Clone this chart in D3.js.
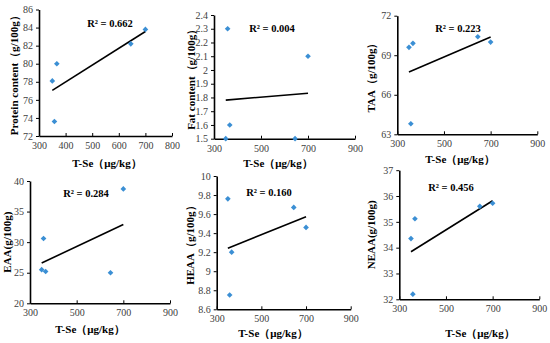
<!DOCTYPE html>
<html><head><meta charset="utf-8">
<script src="https://cdn.jsdelivr.net/npm/d3@7"></script>
<style>
body{margin:0;background:#fff;}
svg{display:block;}
text{font-family:"Liberation Serif","Times New Roman",serif;}
</style></head>
<body><svg id="c" width="550" height="343"></svg>
<script>
// T-Se values (μg/kg)
const tse = [350, 358, 367, 645, 700];
const protein = [78.1, 73.6, 80.0, 82.2, 83.8];
const fat = [1.5, 2.3, 1.6, 1.5, 2.1];
const taa = [69.6, 63.8, 69.9, 70.4, 70.0];
const eaa = [25.5, 30.6, 25.2, 25.0, 38.7];
const heaa = [9.76, 8.75, 9.20, 9.67, 9.46];
const neaa = [34.35, 32.2, 35.12, 35.6, 35.72];
const r2Labels = ["R² = 0.662", "R² = 0.004", "R² = 0.223", "R² = 0.284", "R² = 0.160", "R² = 0.456"];
const yTitles = ["Protein content（g/100g）", "Fat content（g/100g）", "TAA（g/100g）", "EAA(g/100g)", "HEAA（g/100g）", "NEAA(g/100g)"];
const xTitle = "T-Se（μg/kg）";
const xTicks1 = [300, 400, 500, 600, 700, 800];
const xTicks2 = [300, 500, 700, 900];
const yTicks = [
  [72, 74, 76, 78, 80, 82, 84, 86],
  [1.5, 1.6, 1.7, 1.8, 1.9, 2.0, 2.1, 2.2, 2.3, 2.4],
  [63, 66, 69, 72],
  [20, 25, 30, 35, 40],
  [8.6, 8.8, 9.0, 9.2, 9.4, 9.6, 9.8, 10.0],
  [32, 33, 34, 35, 36, 37]
];
const yData = [protein, fat, taa, eaa, heaa, neaa];

const panels = [
  {x0:39, x1:172, xd:[300,800], xt:xTicks1, y0:136, y1:9.5, r2:[110,23], ylx:14, xtx:107, xty:163},
  {x0:214, x1:355, xd:[300,900], xt:xTicks2, y0:138.7, y1:15, r2:[272,28], ylx:191, xtx:278, xty:163},
  {x0:397.3, x1:537.3, xd:[300,900], xt:xTicks2, y0:134.3, y1:15.7, r2:[458,28], ylx:371, xtx:460, xty:159},
  {x0:30, x1:170, xd:[300,900], xt:xTicks2, y0:303.3, y1:181, r2:[86,193], ylx:7, xtx:90, xty:329},
  {x0:216.7, x1:350.7, xd:[300,900], xt:xTicks2, y0:309.3, y1:176, r2:[269,192], ylx:190, xtx:273, xty:333},
  {x0:399.3, x1:539.3, xd:[300,900], xt:xTicks2, y0:299.3, y1:170.2, r2:[451,187], ylx:371, xtx:480, xty:333}
];

const svg = d3.select("#c");
const fmt = v => (Math.round(v*10)/10).toString();

panels.forEach((p, i) => {
  const yt = yTicks[i];
  const x = d3.scaleLinear().domain(p.xd).range([p.x0, p.x1]);
  const y = d3.scaleLinear().domain([yt[0], yt[yt.length-1]]).range([p.y0, p.y1]);
  const g = svg.append("g");

  const xa = g.append("g").attr("transform", `translate(0,${p.y0})`)
    .call(d3.axisBottom(x).tickValues(p.xt).tickSizeInner(-3).tickSizeOuter(0).tickPadding(6).tickFormat(d3.format("d")));
  const ya = g.append("g").attr("transform", `translate(${p.x0},0)`)
    .call(d3.axisLeft(y).tickValues(yt).tickSizeInner(3).tickSizeOuter(0).tickPadding(3).tickFormat(fmt));
  [xa, ya].forEach(a => {
    a.select(".domain").attr("stroke", "#000").attr("stroke-width", 1.6);
    a.selectAll(".tick line").attr("stroke", "#000").attr("stroke-width", 1);
    a.selectAll(".tick text").attr("font-size", 10).attr("fill", "#404040")
      .attr("font-family", "'Liberation Serif', serif");
  });

  // regression line
  const ys = yData[i];
  const mx = d3.mean(tse), my = d3.mean(ys);
  let sxy = 0, sxx = 0;
  tse.forEach((v, k) => { sxy += (v-mx)*(ys[k]-my); sxx += (v-mx)*(v-mx); });
  const b = sxy/sxx, a0 = my - b*mx;
  const xmin = d3.min(tse), xmax = d3.max(tse);
  g.append("line")
    .attr("x1", x(xmin)).attr("y1", y(a0 + b*xmin))
    .attr("x2", x(xmax)).attr("y2", y(a0 + b*xmax))
    .attr("stroke", "#000").attr("stroke-width", 1.6);

  // points (square rotated 45° = diamond)
  const sym = d3.symbol().type(d3.symbolSquare).size(16);
  g.selectAll("path.pt").data(tse).enter().append("path")
    .attr("class", "pt")
    .attr("d", sym)
    .attr("transform", (d, k) => `translate(${x(d)},${y(ys[k])}) rotate(45)`)
    .attr("fill", "#3b8fd4");

  // R2 label
  g.append("text").attr("x", p.r2[0]).attr("y", p.r2[1]).attr("dy", "0.35em")
    .attr("text-anchor", "middle").attr("font-size", 10.5).attr("font-weight", "bold")
    .text(r2Labels[i]);

  // y title
  const cy = (p.y0 + p.y1)/2;
  g.append("text").attr("transform", `translate(${p.ylx},${cy}) rotate(-90)`)
    .attr("dy", "0.35em").attr("text-anchor", "middle")
    .attr("font-size", 11).attr("font-weight", "bold")
    .text(yTitles[i]);

  // x title
  g.append("text").attr("x", p.xtx).attr("y", p.xty).attr("dy", "0.35em")
    .attr("text-anchor", "middle").attr("font-size", 11).attr("font-weight", "bold")
    .text(xTitle);
});
</script></body></html>
